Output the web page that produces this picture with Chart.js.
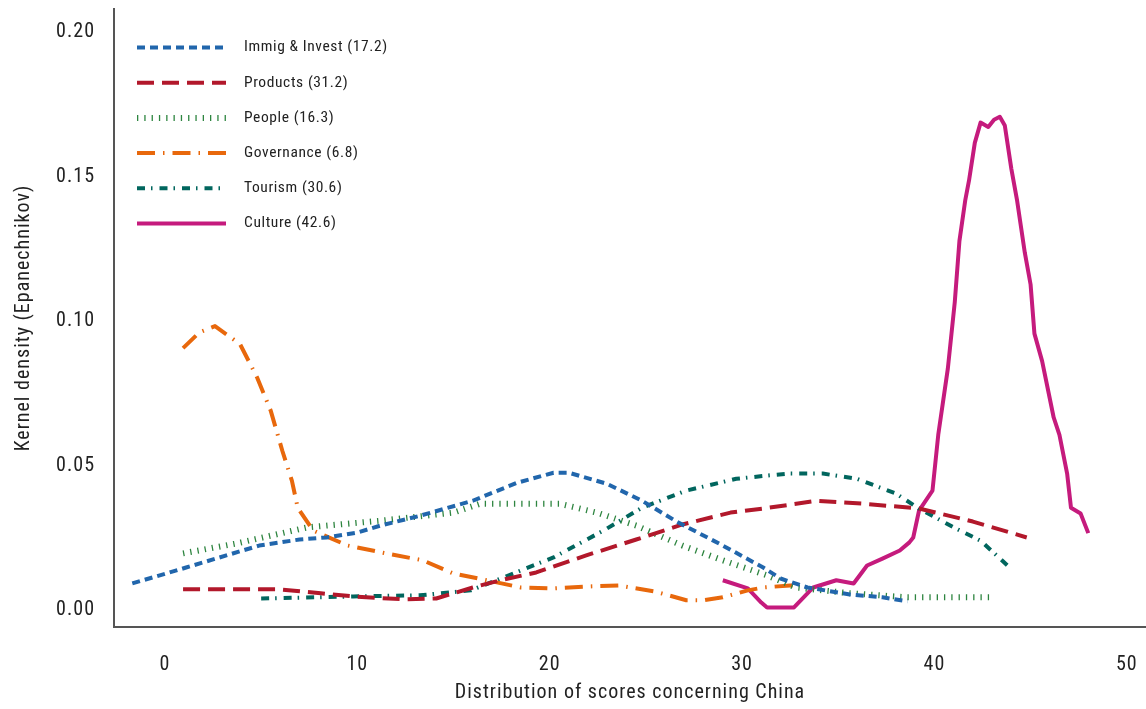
<!DOCTYPE html>
<html><head><meta charset="utf-8">
<script src="https://cdn.jsdelivr.net/npm/chart.js@4/dist/chart.umd.min.js"></script>
<style>html,body{margin:0;padding:0;background:#fff}#wrap{width:1146px;height:709px}</style>
</head><body><div id="wrap"><canvas id="c" width="1146" height="709"></canvas></div>
<script>
const seriesNames = ['Immig & Invest (17.2)','Products (31.2)','People (16.3)','Governance (6.8)','Tourism (30.6)','Culture (42.6)'];
const xTickValues = [0,10,20,30,40,50];
const yTickValues = [0,0.05,0.10,0.15,0.20];
const xTitle = 'Distribution of scores concerning China';
const yTitle = 'Kernel density (Epanechnikov)';

const immigX = [-1.7,1.1,4.9,7.0,8.4,10.0,11.2,13.25,16.0,18.3,20.2,21.0,23.0,24.8,26.6,29.0,31.1,32.0,33.4,35.6,37.3,38.6];
const immigY = [0.0086,0.0141,0.0217,0.0238,0.0245,0.0262,0.0286,0.032,0.0372,0.0434,0.0469,0.0469,0.043,0.0372,0.030,0.0217,0.0141,0.0103,0.0072,0.0048,0.0038,0.0024];
const prodX = [0.94,3,5.8,8.1,9.8,12.4,14.1,16.0,17.5,19.3,21.9,24.5,26.9,29.4,31.1,33.9,36.3,39.2,42.0,44.8];
const prodY = [0.0066,0.0066,0.0066,0.0052,0.0041,0.0031,0.0034,0.0072,0.0098,0.0124,0.0183,0.0238,0.029,0.0331,0.0345,0.0372,0.0362,0.0345,0.030,0.0245];
const peopleX = [0.94,3.7,7.4,11.2,12.7,15.0,16.4,18.5,20.5,22.5,24.5,26.9,29.0,31.3,32.8,35.6,38.6,42.9];
const peopleY = [0.019,0.0224,0.028,0.0303,0.0314,0.0331,0.0362,0.0362,0.0362,0.033,0.0286,0.0217,0.0166,0.0114,0.0072,0.0052,0.0038,0.0038];
const govX = [0.94,1.8,2.6,3.9,4.8,5.5,6.1,6.6,6.9,7.7,9.5,11.5,13.4,15.0,16.3,18.5,20.2,22.2,23.6,25.4,27.1,28.0,29.0,30.3,31.1,32.5,32.9];
const govY = [0.090,0.0955,0.0976,0.0914,0.0797,0.0683,0.0545,0.0441,0.0348,0.0269,0.0217,0.019,0.0166,0.012,0.0103,0.0072,0.0069,0.0076,0.0079,0.0059,0.0028,0.0028,0.0038,0.0062,0.0072,0.0079,0.0079];
const tourX = [5.0,9.8,13.25,15.9,17.6,20.2,22.8,24.8,27.1,29.7,31.3,32.5,34.2,35.96,38.0,39.2,41.0,42.4,43.8];
const tourY = [0.0034,0.0041,0.0045,0.0062,0.0107,0.0176,0.0269,0.0348,0.0407,0.0448,0.0459,0.0466,0.0466,0.0448,0.0397,0.0345,0.028,0.0234,0.0148];
const cultX = [29.0,30.3,31.0,31.3,32.7,33.7,34.9,35.8,36.5,37.3,38.2,38.7,38.9,39.2,39.9,40.2,40.7,41.06,41.3,41.6,41.8,42.1,42.4,42.8,43.1,43.4,43.66,44.0,44.3,44.7,45.0,45.2,45.6,46.2,46.5,46.9,47.1,47.6,48.0];
const cultY = [0.0097,0.0069,0.002,0.0003,0.0003,0.0072,0.0097,0.0086,0.0148,0.0172,0.020,0.0228,0.0245,0.0338,0.0407,0.060,0.083,0.106,0.127,0.141,0.148,0.161,0.168,0.1665,0.169,0.170,0.167,0.152,0.141,0.123,0.112,0.095,0.0855,0.066,0.060,0.0466,0.0348,0.0328,0.026];

const pts = (xs, ys) => xs.map((x, i) => ({x, y: ys[i]}));
const FONT = "'Liberation Sans Narrow','Arial Narrow','Roboto Condensed','Liberation Sans',sans-serif";

const styles = [
  {c:'#2166ac', w:4, d:[8,5]},
  {c:'#b2182b', w:4, d:[17,8]},
  {c:'#2e8540', w:6, d:[1.3,6]},
  {c:'#e8680c', w:4, d:[18,8,1.5,8]},
  {c:'#01665e', w:4, d:[8,6,1.5,7]},
  {c:'#c51b7d', w:4, d:[]}
];
const dataSets = [pts(immigX,immigY),pts(prodX,prodY),pts(peopleX,peopleY),pts(govX,govY),pts(tourX,tourY),pts(cultX,cultY)];

const spacingPlugin = {
  id: 'spacing',
  beforeDraw(chart) { chart.ctx.letterSpacing = '1px'; }
};

const legendPlugin = {
  id: 'customLegend',
  afterDraw(chart) {
    const ctx = chart.ctx;
    const ca = chart.chartArea;
    chart.data.datasets.forEach((ds, i) => {
      const y = ca.top + 38.5 + i * 35.2;
      const x0 = ca.left + 23, x1 = ca.left + 112;
      ctx.save();
      ctx.strokeStyle = ds.borderColor;
      ctx.lineWidth = ds.borderWidth;
      ctx.setLineDash(ds.borderDash);
      ctx.lineCap = 'butt';
      ctx.beginPath(); ctx.moveTo(x0, y); ctx.lineTo(x1, y); ctx.stroke();
      ctx.setLineDash([]);
      ctx.fillStyle = '#222';
      ctx.letterSpacing = '0.6px';
      ctx.font = '15.5px ' + FONT;
      ctx.textBaseline = 'middle';
      ctx.fillText(ds.label, ca.left + 130, y);
      ctx.restore();
    });
  }
};

new Chart(document.getElementById('c'), {
  type: 'line',
  data: {
    datasets: dataSets.map((d, i) => ({
      label: seriesNames[i], data: d,
      borderColor: styles[i].c, borderWidth: styles[i].w, borderDash: styles[i].d,
      pointRadius: 0, tension: 0, fill: false, borderCapStyle: 'butt', borderJoinStyle: 'round'
    }))
  },
  options: {
    responsive: false, animation: false,
    layout: {padding: {top: 9, right: 0, left: 0, bottom: 0}},
    plugins: {legend: {display: false}, tooltip: {enabled: false}},
    scales: {
      x: {
        type: 'linear', min: -2.65, max: 51.0,
        afterBuildTicks: s => { s.ticks = xTickValues.map(v => ({value: v})); },
        afterFit: s => { s.height = 82; s.paddingLeft = 0; s.paddingRight = 0; },
        grid: {display: false, drawTicks: false},
        border: {display: true, color: '#555', width: 2},
        ticks: {color: '#222', font: {family: FONT, size: 20}, padding: 26, maxRotation: 0, callback: v => String(v)},
        title: {display: true, text: xTitle, color: '#222', font: {family: FONT, size: 20}, padding: {top: 0, bottom: 4}}
      },
      y: {
        min: -0.00647, max: 0.2073,
        afterBuildTicks: s => { s.ticks = yTickValues.map(v => ({value: v})); },
        afterFit: s => { s.width = 114; s.paddingTop = 0; s.paddingBottom = 0; },
        grid: {display: false, drawTicks: false},
        border: {display: true, color: '#555', width: 2},
        ticks: {color: '#222', font: {family: FONT, size: 20}, padding: 19, labelOffset: 2, callback: v => Number(v).toFixed(2)},
        title: {display: true, text: yTitle, color: '#222', font: {family: FONT, size: 20}, padding: {top: 12, bottom: 0}}
      }
    }
  },
  plugins: [spacingPlugin, legendPlugin]
});
</script></body></html>
